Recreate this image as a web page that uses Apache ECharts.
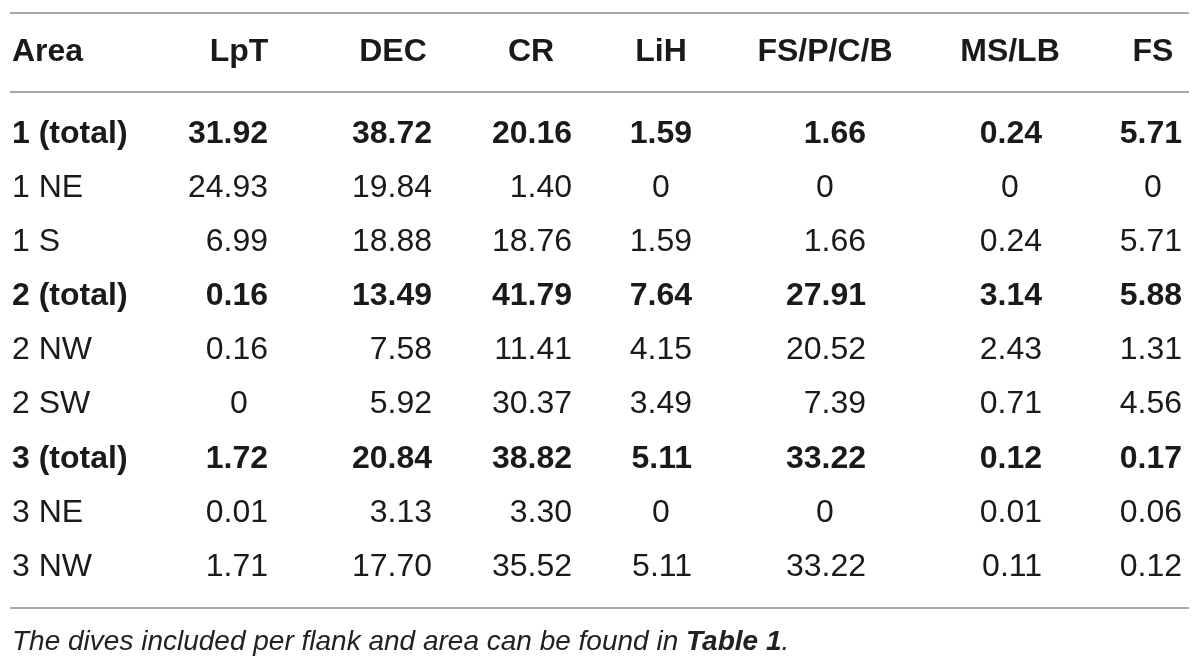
<!DOCTYPE html>
<html>
<head>
<meta charset="utf-8">
<title>Table</title>
<script src="https://cdn.jsdelivr.net/npm/echarts@6/dist/echarts.min.js"></script>
<style>
  html, body { margin: 0; padding: 0; background: #fff; }
  #table { width: 1200px; height: 670px; }
</style>
</head>
<body>
<div id="table"></div>
<script>
// row labels and column headers
const areas = ['1 (total)', '1 NE', '1 S', '2 (total)', '2 NW', '2 SW', '3 (total)', '3 NE', '3 NW'];
const columns = ['LpT', 'DEC', 'CR', 'LiH', 'FS/P/C/B', 'MS/LB', 'FS'];

// values per column, one per area
const lpt = [31.92, 24.93, 6.99, 0.16, 0.16, 0, 1.72, 0.01, 1.71];
const dec = [38.72, 19.84, 18.88, 13.49, 7.58, 5.92, 20.84, 3.13, 17.70];
const cr = [20.16, 1.40, 18.76, 41.79, 11.41, 30.37, 38.82, 3.30, 35.52];
const lih = [1.59, 0, 1.59, 7.64, 4.15, 3.49, 5.11, 0, 5.11];
const fspcb = [1.66, 0, 1.66, 27.91, 20.52, 7.39, 33.22, 0, 33.22];
const mslb = [0.24, 0, 0.24, 3.14, 2.43, 0.71, 0.12, 0.01, 0.11];
const fs = [5.71, 0, 5.71, 5.88, 1.31, 4.56, 0.17, 0.06, 0.12];

const caption = 'The dives included per flank and area can be found in ';
const captionRef = 'Table 1';

const values = [lpt, dec, cr, lih, fspcb, mslb, fs];

// layout (x in axis units = pixels)
const colRight = [268, 432, 572, 692, 866, 1042, 1182];
const colCenter = [239, 393, 531, 661, 825, 1010, 1153];
const FONT = '"Liberation Sans", Arial, Helvetica, sans-serif';
const FS_MAIN = 32;
const INK = '#1a1a1a';
const RULE = '#8c8c8c';

const isTotal = (i) => areas[i].indexOf('total') >= 0;
const fmt = (v) => (v === 0 ? '0' : v.toFixed(2));

const myChart = echarts.init(document.getElementById('table'));

myChart.setOption({
  animation: false,
  backgroundColor: '#fff',
  grid: { left: 0, right: 0, top: 107, height: 487, outerBoundsMode: 'none', containLabel: false },
  xAxis: { type: 'value', min: 0, max: 1200, show: false },
  yAxis: {
    type: 'category',
    data: areas,
    inverse: true,
    axisLine: { show: false },
    axisTick: { show: false },
    splitLine: { show: false },
    axisLabel: {
      interval: 0,
      align: 'left',
      margin: -12,
      color: INK,
      fontFamily: FONT,
      fontSize: FS_MAIN,
      formatter: (v) => (v.indexOf('total') >= 0 ? '{b|' + v + '}' : v),
      rich: { b: { fontWeight: 'bold', fontFamily: FONT, fontSize: FS_MAIN, color: INK } }
    }
  },
  graphic: [
    { type: 'line', shape: { x1: 10, y1: 13, x2: 1189, y2: 13 }, style: { stroke: RULE, lineWidth: 1.5 } },
    { type: 'line', shape: { x1: 10, y1: 92, x2: 1189, y2: 92 }, style: { stroke: RULE, lineWidth: 1.5 } },
    { type: 'line', shape: { x1: 10, y1: 608, x2: 1189, y2: 608 }, style: { stroke: RULE, lineWidth: 1.5 } },
    {
      type: 'text', left: 12, top: 628,
      style: {
        text: '{i|' + caption + '}{b|' + captionRef + '}{i|.}',
        rich: {
          i: { fontStyle: 'italic', fontFamily: FONT, fontSize: 28, fill: '#222' },
          b: { fontStyle: 'italic', fontWeight: 'bold', fontFamily: FONT, fontSize: 28, fill: '#222' }
        }
      }
    }
  ],
  series: [
    {
      // header row, placed above the first data row
      type: 'custom',
      data: [[0, 0]],
      renderItem: (params, api) => {
        const children = [{
          type: 'text',
          style: { text: 'Area', x: 12, y: api.coord([0, 0])[1] - 82, align: 'left', verticalAlign: 'middle',
            font: 'bold ' + FS_MAIN + 'px ' + FONT, fill: INK }
        }];
        columns.forEach((name, c) => {
          const p = api.coord([colCenter[c], 0]);
          children.push({
            type: 'text',
            style: { text: name, x: p[0], y: p[1] - 82, align: 'center', verticalAlign: 'middle',
              font: 'bold ' + FS_MAIN + 'px ' + FONT, fill: INK }
          });
        });
        return { type: 'group', children: children };
      }
    },
    {
      type: 'custom',
      data: areas.map((a, i) => [0, i]),
      renderItem: (params, api) => {
        const row = api.value(1);
        const weight = isTotal(row) ? 'bold ' : '';
        const children = values.map((col, c) => {
          const v = col[row];
          const zero = v === 0;
          const p = api.coord([zero ? colCenter[c] : colRight[c], row]);
          return {
            type: 'text',
            style: { text: fmt(v), x: p[0], y: p[1], align: zero ? 'center' : 'right', verticalAlign: 'middle',
              font: weight + FS_MAIN + 'px ' + FONT, fill: INK }
          };
        });
        return { type: 'group', children: children };
      }
    }
  ]
});
</script>
</body>
</html>
